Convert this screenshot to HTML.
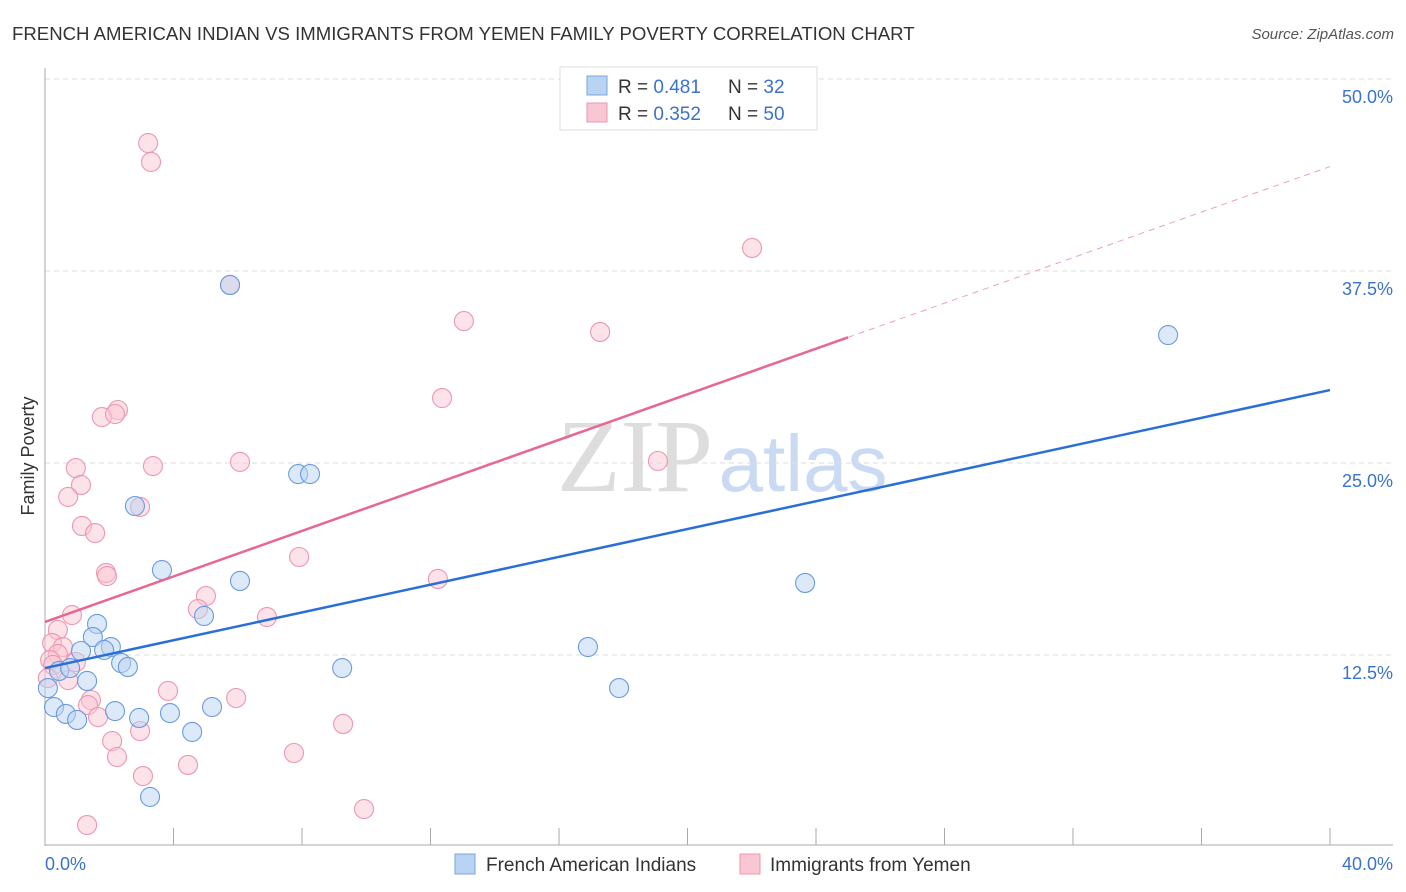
<!DOCTYPE html>
<html><head><meta charset="utf-8">
<style>
body{margin:0;background:#fff;font-family:"Liberation Sans",sans-serif;}
svg{display:block}
</style></head>
<body>
<svg id="chart" width="1406" height="892" viewBox="0 0 1406 892">
<text x="12" y="40" font-size="18.6" fill="#333">FRENCH AMERICAN INDIAN VS IMMIGRANTS FROM YEMEN FAMILY POVERTY CORRELATION CHART</text>
<text x="1394" y="39" font-size="15" fill="#555" font-style="italic" text-anchor="end">Source: ZipAtlas.com</text>
<g>
<text x="635" y="491" font-size="104" fill="#ddd" font-family="Liberation Serif, serif" text-anchor="middle">ZIP</text>
<text x="803" y="491" font-size="80" fill="#c9daf2" text-anchor="middle">atlas</text>
</g>
<g id="grid"></g>
<g id="axes"></g>
<g id="pts"></g>
<g id="trend"></g>
<text transform="translate(34,456) rotate(-90)" font-size="18" fill="#333" text-anchor="middle">Family Poverty</text>
<g>
<rect x="560" y="67" width="257" height="63" fill="#fff" stroke="#ddd"/>
<rect x="587" y="76" width="20" height="19" fill="#b9d3f3" stroke="#7aa6e0"/>
<rect x="587" y="103" width="20" height="19" fill="#f9c6d4" stroke="#ec97b0"/>
<text x="618" y="93" font-size="19" fill="#333">R = <tspan fill="#3a73cc">0.481</tspan></text>
<text x="728" y="93" font-size="19" fill="#333">N = <tspan fill="#3a73cc"> 32</tspan></text>
<text x="618" y="120" font-size="19" fill="#333">R = <tspan fill="#3a73cc">0.352</tspan></text>
<text x="728" y="120" font-size="19" fill="#333">N = <tspan fill="#3a73cc">50</tspan></text>
</g>
<g>
<rect x="455" y="854" width="20" height="20" fill="#b9d3f3" stroke="#7aa6e0"/>
<text x="486" y="871" font-size="19" fill="#333">French American Indians</text>
<rect x="740" y="854" width="20" height="20" fill="#f9c6d4" stroke="#ec97b0"/>
<text x="770" y="871" font-size="19" fill="#333">Immigrants from Yemen</text>
</g>
</svg>
<script>
const yTicks=[12.5,25,37.5,50];
const yTickLabels=["12.5%","25.0%","37.5%","50.0%"];
const xTickLabels=["0.0%","40.0%"];
const blueX=[5.76,34.96,7.88,8.25,2.80,3.64,6.07,23.66,4.95,1.62,1.49,2.05,1.12,1.84,16.90,2.37,2.58,9.25,0.44,0.78,1.31,0.09,17.87,0.28,0.65,2.18,5.20,2.93,3.89,1.00,4.58,3.27];
const blueY=[36.59,33.33,24.28,24.28,22.20,18.03,17.32,17.19,15.04,14.52,13.67,13.02,12.76,12.83,13.02,11.98,11.72,11.65,11.46,11.65,10.81,10.35,10.35,9.11,8.66,8.85,9.11,8.40,8.72,8.27,7.49,3.26];
const pinkX=[3.21,3.30,5.76,22.01,13.04,17.28,12.36,2.27,1.77,2.18,0.96,3.36,6.07,19.08,1.12,0.72,2.96,1.15,1.56,7.91,1.90,1.93,12.23,5.01,4.76,0.84,6.91,0.40,0.22,0.56,0.40,0.96,0.16,0.25,0.72,0.09,3.83,1.43,5.95,1.34,1.65,9.28,2.09,2.96,2.24,7.75,3.05,4.45,9.93,1.31];
const pinkY=[45.83,44.60,36.59,39.00,34.24,33.53,29.23,28.45,27.99,28.19,24.67,24.80,25.07,25.13,23.57,22.79,22.14,20.90,20.44,18.88,17.84,17.64,17.45,16.34,15.49,15.10,14.97,14.13,13.28,13.02,12.57,12.04,12.17,11.85,10.87,11.00,10.16,9.57,9.70,9.24,8.46,8.01,6.90,7.55,5.86,6.12,4.62,5.34,2.47,1.43];
const blueTrend=[11.65,29.75];
const pinkTrend=[14.65,44.3];
const pinkSolidEnd=25.0;

const NS="http://www.w3.org/2000/svg";
const sx=v=>45+v/40*1285;
const sy=v=>847-v/12.5*192;
function mk(tag,attrs,parent){const e=document.createElementNS(NS,tag);for(const k in attrs)e.setAttribute(k,attrs[k]);parent.appendChild(e);return e;}
const grid=document.getElementById('grid'),axes=document.getElementById('axes'),pts=document.getElementById('pts'),trend=document.getElementById('trend');
yTicks.forEach((t,i)=>{
  const l=mk('line',{x1:45,x2:1393,y1:sy(t),y2:sy(t),stroke:'#ddd','stroke-dasharray':'5,4'},grid);
  
  
  const tx=mk('text',{x:1393,y:sy(t)+24,'font-size':18,fill:'#3a73cc','text-anchor':'end'},axes);
  tx.textContent=yTickLabels[i];
  
  
});
const ya=mk('line',{x1:45,x2:45,y1:68,y2:846,stroke:'#aaa'},axes);


const xa=mk('line',{x1:45,x2:1393,y1:845,y2:845,stroke:'#aaa'},axes);


for(let k=0;k<=10;k++){
  const tk=mk('line',{x1:sx(k*4),x2:sx(k*4),y1:828,y2:845,stroke:'#aaa'},axes);
  
  
}
const xl0=mk('text',{x:45,y:870,'font-size':18,fill:'#3a73cc'},axes);xl0.textContent=xTickLabels[0];


const xl1=mk('text',{x:1393,y:870,'font-size':18,fill:'#3a73cc','text-anchor':'end'},axes);xl1.textContent=xTickLabels[1];


function dots(X,Y,fill,stroke,name){
  X.forEach((x,i)=>{
    const c=mk('circle',{cx:sx(x),cy:sy(Y[i]),r:9.5,fill:fill,'fill-opacity':0.5,stroke:stroke,'stroke-width':1.1},pts);
    
    
  });
}
dots(pinkX,pinkY,'#f9c6d4','#ec97b0','point-yemen');
dots(blueX,blueY,'#b9d3f3','#6a9be0','point-french');
const bl=mk('line',{x1:sx(0),y1:sy(blueTrend[0]),x2:sx(40),y2:sy(blueTrend[1]),stroke:'#2a6fd6','stroke-width':2.5},trend);


const pAt=x=>pinkTrend[0]+(pinkTrend[1]-pinkTrend[0])*x/40;
const pl=mk('line',{x1:sx(0),y1:sy(pAt(0)),x2:sx(pinkSolidEnd),y2:sy(pAt(pinkSolidEnd)),stroke:'#e8678f','stroke-width':2.5},trend);


const pd=mk('line',{x1:sx(pinkSolidEnd),y1:sy(pAt(pinkSolidEnd)),x2:sx(40),y2:sy(pAt(40)),stroke:'#eea0b8','stroke-width':1,'stroke-dasharray':'6,5'},trend);


</script>
</body></html>
